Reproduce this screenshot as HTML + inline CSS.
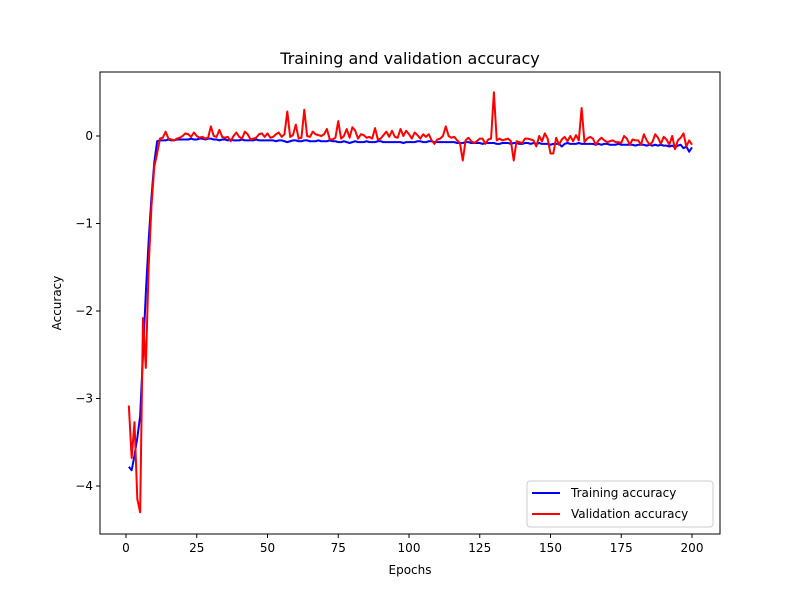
<!DOCTYPE html>
<html><head><meta charset="utf-8"><style>
body{margin:0;background:#fff;font-family:"Liberation Sans","DejaVu Sans",sans-serif}
svg text{font-family:"DejaVu Sans","Liberation Sans",sans-serif}
</style></head><body>
<svg id="chart" width="800" height="600" xmlns="http://www.w3.org/2000/svg"></svg>
<script>
const xTicks=[0,25,50,75,100,125,150,175,200];
const yTicks=[0,-1,-2,-3,-4];
const yTickLabels=["0","\u22121","\u22122","\u22123","\u22124"];
const trainAcc=[
-3.78,-3.82,-3.65,-3.45,-3.2,-2.5,-1.8,-1.2,-0.7,-0.3,
-0.06,-0.05,-0.05,-0.05,-0.04,-0.05,-0.05,-0.04,-0.04,-0.04,
-0.04,-0.04,-0.03,-0.04,-0.04,-0.03,-0.03,-0.04,-0.03,-0.03,
-0.04,-0.04,-0.05,-0.04,-0.04,-0.05,-0.04,-0.05,-0.05,-0.05,
-0.04,-0.05,-0.05,-0.05,-0.05,-0.04,-0.05,-0.05,-0.05,-0.05,
-0.05,-0.05,-0.06,-0.05,-0.05,-0.06,-0.07,-0.06,-0.05,-0.05,
-0.06,-0.06,-0.05,-0.05,-0.06,-0.06,-0.06,-0.05,-0.06,-0.06,
-0.06,-0.05,-0.06,-0.06,-0.07,-0.07,-0.06,-0.07,-0.08,-0.07,
-0.06,-0.07,-0.07,-0.07,-0.06,-0.07,-0.07,-0.07,-0.06,-0.06,
-0.07,-0.07,-0.07,-0.07,-0.07,-0.07,-0.07,-0.08,-0.07,-0.07,
-0.07,-0.07,-0.06,-0.06,-0.07,-0.07,-0.06,-0.06,-0.07,-0.07,
-0.07,-0.07,-0.07,-0.07,-0.07,-0.07,-0.08,-0.08,-0.08,-0.07,
-0.07,-0.08,-0.08,-0.08,-0.08,-0.09,-0.08,-0.08,-0.08,-0.08,
-0.09,-0.09,-0.08,-0.08,-0.08,-0.09,-0.08,-0.08,-0.09,-0.09,
-0.08,-0.08,-0.09,-0.08,-0.09,-0.08,-0.09,-0.09,-0.09,-0.10,
-0.09,-0.09,-0.09,-0.12,-0.09,-0.08,-0.09,-0.09,-0.09,-0.08,
-0.09,-0.09,-0.09,-0.09,-0.09,-0.10,-0.09,-0.10,-0.09,-0.09,
-0.10,-0.10,-0.10,-0.09,-0.10,-0.10,-0.10,-0.10,-0.10,-0.11,
-0.10,-0.10,-0.10,-0.11,-0.10,-0.11,-0.10,-0.11,-0.10,-0.11,
-0.11,-0.12,-0.11,-0.13,-0.11,-0.10,-0.14,-0.12,-0.18,-0.13];
const valAcc=[
-3.08,-3.68,-3.27,-4.15,-4.3,-2.08,-2.65,-1.5,-0.8,-0.35,
-0.2,-0.03,-0.02,0.05,-0.03,-0.04,-0.05,-0.03,-0.02,0.0,
0.03,0.02,-0.01,0.04,0.0,-0.02,-0.01,-0.03,-0.02,0.11,
0.0,-0.01,0.07,-0.01,-0.02,-0.01,-0.06,0.0,0.04,-0.01,
-0.03,0.05,0.02,-0.04,-0.03,-0.02,0.02,0.03,-0.01,0.03,
-0.02,-0.01,0.02,0.04,-0.01,0.02,0.28,-0.01,0.01,0.13,
-0.03,-0.02,0.3,0.0,-0.01,0.05,0.02,0.01,0.0,0.02,
0.08,-0.04,-0.04,-0.02,0.17,-0.03,0.0,0.08,-0.02,0.1,
0.06,-0.03,0.02,0.01,-0.02,-0.01,-0.03,0.09,-0.04,-0.03,
0.01,0.05,-0.01,0.06,-0.01,-0.02,0.08,0.0,0.06,0.02,
-0.03,0.04,0.01,-0.03,0.02,-0.01,0.02,-0.05,-0.09,-0.04,
-0.03,0.0,0.11,0.0,-0.02,-0.01,-0.05,-0.08,-0.28,-0.05,
-0.02,-0.06,-0.08,-0.06,-0.03,-0.03,-0.09,-0.04,-0.03,0.5,
-0.05,-0.03,-0.05,-0.04,-0.03,-0.06,-0.28,-0.06,-0.07,-0.08,
-0.03,-0.03,-0.04,-0.05,-0.12,0.0,-0.06,0.03,-0.03,-0.2,
-0.2,-0.02,-0.1,-0.04,-0.01,-0.06,0.0,-0.06,0.01,-0.05,
0.32,-0.07,-0.03,-0.01,-0.03,-0.1,-0.05,-0.02,-0.05,-0.07,
-0.06,-0.05,-0.07,-0.07,-0.08,0.0,-0.03,-0.1,-0.04,-0.05,
-0.05,-0.1,0.02,-0.05,-0.1,-0.07,0.02,-0.02,-0.09,-0.01,
-0.04,-0.1,0.0,-0.15,-0.05,-0.02,0.03,-0.12,-0.05,-0.1];
const NS="http://www.w3.org/2000/svg";
const svg=document.getElementById('chart');
const L=100,R=720,T=72,B=534;
const xs=v=>126+(v-0)*(692-126)/200;
const ys=v=>136-v*87.5;
function mk(tag,attrs,text){const e=document.createElementNS(NS,tag);for(const k in attrs)e.setAttribute(k,attrs[k]);if(text!==undefined)e.textContent=text;svg.appendChild(e);return e;}
let t=mk('text',{x:410,y:64,'text-anchor':'middle','font-size':16,fill:'#000'},'Training and validation accuracy');


function series(arr,color,name){
  const d=arr.map((v,i)=>(i?'L':'M')+xs(i+1).toFixed(2)+','+ys(v).toFixed(2)).join(' ');
  const p=mk('path',{d:d,fill:'none',stroke:color,'stroke-width':2,'stroke-linejoin':'round'});
  
  
}
series(trainAcc,'#0000ff','training-accuracy-line');
series(valAcc,'#ff0000','validation-accuracy-line');
let fr=mk('rect',{x:L,y:T,width:R-L,height:B-T,fill:'none',stroke:'#000','stroke-width':1});


xTicks.forEach(v=>{
  const x=xs(v);
  const tk=mk('line',{x1:x,y1:B,x2:x,y2:B+4,stroke:'#000'});
  
  
  const lb=mk('text',{x:x,y:B+18,'text-anchor':'middle','font-size':12},String(v));
  
  
});
yTicks.forEach((v,i)=>{
  const y=ys(v);
  const tk=mk('line',{x1:L-4,y1:y,x2:L,y2:y,stroke:'#000'});
  
  
  const lb=mk('text',{x:L-7,y:y+4,'text-anchor':'end','font-size':12},yTickLabels[i]);
  
  
});
let xt=mk('text',{x:410,y:574,'text-anchor':'middle','font-size':12},'Epochs');


let yt=mk('text',{x:61,y:303,'text-anchor':'middle','font-size':12,transform:'rotate(-90 61 303)'},'Accuracy');


let lg=mk('rect',{x:527,y:481,width:186,height:46,rx:3,fill:'#fff','fill-opacity':0.8,stroke:'#ccc'});


[['#0000ff','Training accuracy',493],['#ff0000','Validation accuracy',514]].forEach(([c,n,y])=>{
  const ln=mk('line',{x1:532,y1:y,x2:560,y2:y,stroke:c,'stroke-width':2});
  
  
  const tx=mk('text',{x:571,y:y+4,'font-size':12},n);
  
  
});
</script>
</body></html>
